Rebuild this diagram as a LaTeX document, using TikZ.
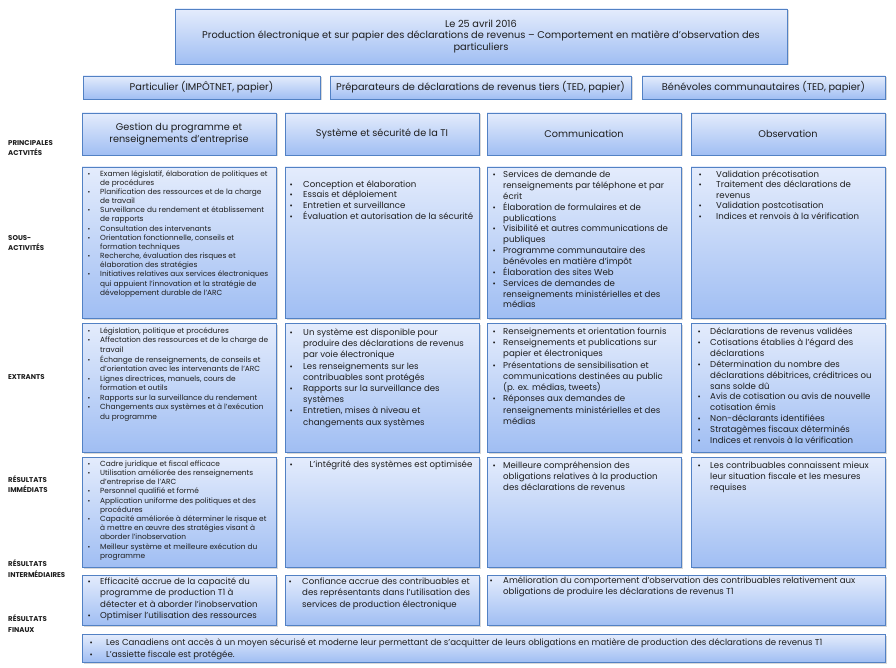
\documentclass[tikz,border=0pt]{standalone}
\usepackage{fontspec}
\setmainfont{Poppins}
\usetikzlibrary{shadows}
\definecolor{bordc}{HTML}{5281C4}
\definecolor{topc}{HTML}{E4ECFC}
\definecolor{botc}{HTML}{A0BEF3}
\definecolor{txt}{HTML}{1E1E1E}
\newcommand{\blst}[2]{\begin{tabular}{@{}p{#1}@{}l@{}}#2\end{tabular}}
\newcommand{\bu}{\scalebox{0.9}{\textbullet}}
\tikzset{
 bx/.style={draw=bordc, line width=0.7pt, top color=topc, bottom color=botc,
   drop shadow={shadow xshift=1.5pt, shadow yshift=-1.5pt, opacity=0.3},
   anchor=north west, inner sep=0pt, outer sep=0pt},
 hd/.style={bx, align=center, text=txt},
 lbl/.style={anchor=west, align=left, inner sep=0pt, text=txt, font=\bfseries\fontsize{7}{10.5}\selectfont},
 tx/.style={anchor=north west, inner sep=0pt, text=txt},
 fs/.style={font=\fontsize{7.4}{#1}\selectfont},
 fn/.style={font=\fontsize{8.6}{#1}\selectfont},
}
\begin{document}
\begin{tikzpicture}[x=1pt,y=-1pt]
\path[use as bounding box, fill=white] (0,0) rectangle (896,668);

% title
\node[hd, minimum width=612pt, minimum height=55pt, font=\fontsize{9.8}{11.8}\selectfont] (title) at (175,9)
 {Le 25 avril 2016\\Production électronique et sur papier des déclarations de revenus – Comportement en matière d’observation des\\particuliers};

% row 2
\node[hd, minimum width=237pt, minimum height=23pt, font=\fontsize{9.8}{11}\selectfont] (p1) at (83,76) {Particulier (IMPÔTNET, papier)};
\node[hd, minimum width=301pt, minimum height=23pt, font=\fontsize{9.8}{11}\selectfont] (p2) at (330,76) {Préparateurs de déclarations de revenus tiers (TED, papier)};
\node[hd, minimum width=243pt, minimum height=23pt, font=\fontsize{9.8}{11}\selectfont] (p3) at (642,76) {Bénévoles communautaires (TED, papier)};

% row 3
\node[hd, minimum width=194pt, minimum height=42pt, font=\fontsize{9.7}{12.5}\selectfont] (a1) at (82,113) {Gestion du programme et\\renseignements d’entreprise};
\node[hd, minimum width=194pt, minimum height=42pt, font=\fontsize{9.7}{12.5}\selectfont] (a2) at (285,113) {Système et sécurité de la TI};
\node[hd, minimum width=194pt, minimum height=42pt, font=\fontsize{9.7}{12.5}\selectfont] (a3) at (487,113) {Communication};
\node[hd, minimum width=194pt, minimum height=42pt, font=\fontsize{9.7}{12.5}\selectfont] (a4) at (691,113) {Observation};

% boxes
\node[bx, minimum width=194pt, minimum height=151pt] (s1) at (82,167) {};
\node[bx, minimum width=194pt, minimum height=151pt] (s2) at (285,167) {};
\node[bx, minimum width=194pt, minimum height=151pt] (s3) at (487,167) {};
\node[bx, minimum width=194pt, minimum height=151pt] (s4) at (691,167) {};

\node[bx, minimum width=194pt, minimum height=129pt] (e1) at (82,323) {};
\node[bx, minimum width=194pt, minimum height=129pt] (e2) at (285,323) {};
\node[bx, minimum width=194pt, minimum height=129pt] (e3) at (487,323) {};
\node[bx, minimum width=194pt, minimum height=129pt] (e4) at (691,323) {};

\node[bx, minimum width=194pt, minimum height=110pt] (i1) at (82,457) {};
\node[bx, minimum width=194pt, minimum height=110pt] (i2) at (285,457) {};
\node[bx, minimum width=194pt, minimum height=110pt] (i3) at (487,457) {};
\node[bx, minimum width=194pt, minimum height=110pt] (i4) at (691,457) {};

\node[bx, minimum width=194pt, minimum height=50pt] (m1) at (82,575) {};
\node[bx, minimum width=194pt, minimum height=50pt] (m2) at (285,575) {};
\node[bx, minimum width=398pt, minimum height=50pt] (m3) at (487,575) {};

\node[bx, minimum width=803pt, minimum height=28pt] (f1) at (82,634) {};

% left labels
\node[lbl] (l1) at (8,148) {PRINCIPALES\\ACTVITÉS};
\node[lbl] (l2) at (8,243) {SOUS-\\ACTIVITÉS};
\node[lbl] (l3) at (8,377) {EXTRANTS};
\node[lbl] (l4) at (8,484) {RÉSULTATS\\IMMÉDIATS};
\node[lbl] (l5) at (8,568.5) {RÉSULTATS\\INTERMÉDIAIRES};
\node[lbl] (l6) at (8,623.5) {RÉSULTATS\\FINAUX};

% sous-activites
\node[tx, fs=9.15] (s1t) at (87.5,169.6) {\blst{12.5pt}{
\bu & Examen législatif, élaboration de politiques et\\
 & de procédures\\
\bu & Planification des ressources et de la charge\\
 & de travail\\
\bu & Surveillance du rendement et établissement\\
 & de rapports\\
\bu & Consultation des intervenants\\
\bu & Orientation fonctionnelle, conseils et\\
 & formation techniques\\
\bu & Recherche, évaluation des risques et\\
 & élaboration des stratégies\\
\bu & Initiatives relatives aux services électroniques\\
 & qui appuient l’innovation et la stratégie de\\
 & développement durable de l’ARC}};

\node[tx, fn=10.4] (s2t) at (289.5,180.0) {\blst{13.5pt}{
\bu & Conception et élaboration\\
\bu & Essais et déploiement\\
\bu & Entretien et surveillance\\
\bu & Évaluation et autorisation de la sécurité}};

\node[tx, fn=10.8] (s3t) at (492.5,169.7) {\blst{10.5pt}{
\bu & Services de demande de\\
 & renseignements par téléphone et par\\
 & écrit\\
\bu & Élaboration de formulaires et de\\
 & publications\\
\bu & Visibilité et autres communications de\\
 & publiques\\
\bu & Programme communautaire des\\
 & bénévoles en matière d’impôt\\
\bu & Élaboration des sites Web\\
\bu & Services de demandes de\\
 & renseignements ministérielles et des\\
 & médias}};

\node[tx, fn=10.5] (s4t) at (698.5,169.95) {\blst{17.5pt}{
\bu & Validation précotisation\\
\bu & Traitement des déclarations de\\
 & revenus\\
\bu & Validation postcotisation\\
\bu & Indices et renvois à la vérification}};

% extrants
\node[tx, fs=9.55] (e1t) at (87.5,326.3) {\blst{12.5pt}{
\bu & Législation, politique et procédures\\
\bu & Affectation des ressources et de la charge de\\
 & travail\\
\bu & Échange de renseignements, de conseils et\\
 & d’orientation avec les intervenants de l’ARC\\
\bu & Lignes directrices, manuels, cours de\\
 & formation et outils\\
\bu & Rapports sur la surveillance du rendement\\
\bu & Changements aux systèmes et à l’exécution\\
 & du programme}};

\node[tx, fn=11.2] (e2t) at (289.5,327.5) {\blst{13.5pt}{
\bu & Un système est disponible pour\\
 & produire des déclarations de revenus\\
 & par voie électronique\\
\bu & Les renseignements sur les\\
 & contribuables sont protégés\\
\bu & Rapports sur la surveillance des\\
 & systèmes\\
\bu & Entretien, mises à niveau et\\
 & changements aux systèmes}};

\node[tx, fn=11.2] (e3t) at (492.5,326.5) {\blst{10.5pt}{
\bu & Renseignements et orientation fournis\\
\bu & Renseignements et publications sur\\
 & papier et électroniques\\
\bu & Présentations de sensibilisation et\\
 & communications destinées au public\\
 & (p. ex. médias, tweets)\\
\bu & Réponses aux demandes de\\
 & renseignements ministérielles et des\\
 & médias}};

\node[tx, fn=10.9] (e4t) at (697.5,326.7) {\blst{12.5pt}{
\bu & Déclarations de revenus validées\\
\bu & Cotisations établies à l’égard des\\
 & déclarations\\
\bu & Détermination du nombre des\\
 & déclarations débitrices, créditrices ou\\
 & sans solde dû\\
\bu & Avis de cotisation ou avis de nouvelle\\
 & cotisation émis\\
\bu & Non-déclarants identifiées\\
\bu & Stratagèmes fiscaux déterminés\\
\bu & Indices et renvois à la vérification}};

% resultats immediats
\node[tx, fs=9.2] (i1t) at (87.5,459.6) {\blst{12.5pt}{
\bu & Cadre juridique et fiscal efficace\\
\bu & Utilisation améliorée des renseignements\\
 & d’entreprise de l’ARC\\
\bu & Personnel qualifié et formé\\
\bu & Application uniforme des politiques et des\\
 & procédures\\
\bu & Capacité améliorée à déterminer le risque et\\
 & à mettre en œuvre des stratégies visant à\\
 & aborder l’inobservation\\
\bu & Meilleur système et meilleure exécution du\\
 & programme}};

\node[tx, fn=10.8] (i2t) at (289.5,459.7) {\blst{20pt}{
\bu & L’intégrité des systèmes est optimisée}};

\node[tx, fn=10.8] (i3t) at (492.5,460.7) {\blst{10.5pt}{
\bu & Meilleure compréhension des\\
 & obligations relatives à la production\\
 & des déclarations de revenus}};

\node[tx, fn=10.8] (i4t) at (697.5,460.7) {\blst{12.5pt}{
\bu & Les contribuables connaissent mieux\\
 & leur situation fiscale et les mesures\\
 & requises}};

% resultats intermediaires
\node[tx, fn=11.3] (m1t) at (87.5,576.4) {\blst{12.5pt}{
\bu & Efficacité accrue de la capacité du\\
 & programme de production T1 à\\
 & détecter et à aborder l’inobservation\\
\bu & Optimiser l’utilisation des ressources}};

\node[tx, fn=11.3] (m2t) at (288.5,576.4) {\blst{13.5pt}{
\bu & Confiance accrue des contribuables et\\
 & des représentants dans l’utilisation des\\
 & services de production électronique}};

\node[tx, fn=11] (m3t) at (489.5,575.6) {\blst{13.5pt}{
\bu & Amélioration du comportement d’observation des contribuables relativement aux\\
 & obligations de produire les déclarations de revenus T1}};

% resultats finaux
\node[tx, fn=12] (f1t) at (89.5,636.9) {\blst{16.5pt}{
\bu & Les Canadiens ont accès à un moyen sécurisé et moderne leur permettant de s’acquitter de leurs obligations en matière de production des déclarations de revenus T1\\
\bu & L’assiette fiscale est protégée.}};

\end{tikzpicture}
\end{document}
